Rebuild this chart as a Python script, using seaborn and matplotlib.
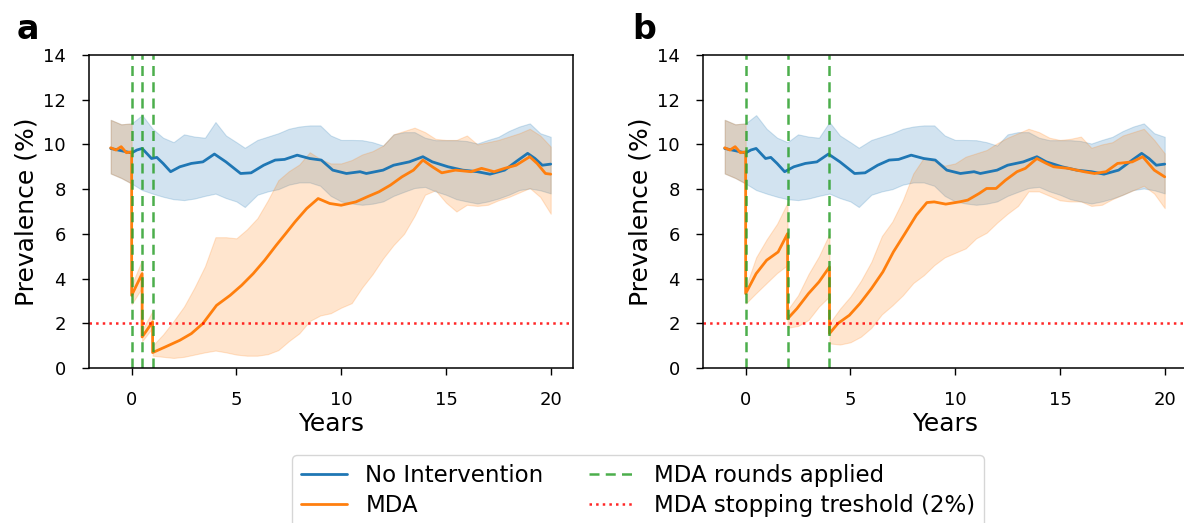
import matplotlib
matplotlib.use("Agg")
import matplotlib.pyplot as plt
import seaborn as sns
import numpy as np

# No intervention (same baseline run in both panels)
base_x = [-1, -0.5, 0, 0.25, 0.5, 0.95, 1.2, 1.5, 1.86, 2.3, 2.85, 3.4, 3.95, 4.5, 5.2, 5.7, 6.3, 6.85, 7.3, 7.9,
          8.5, 9.05, 9.6, 10.25, 10.9, 11.2, 12.0, 12.5, 13.25, 13.9, 14.35, 15.1, 15.8, 16.5, 17.1, 17.8, 18.45,
          18.9, 19.25, 19.6, 20.0]
base_y = [9.82, 9.72, 9.62, 9.75, 9.82, 9.37, 9.42, 9.15, 8.78, 9.0, 9.15, 9.22, 9.57, 9.22, 8.7, 8.73, 9.07, 9.3,
          9.33, 9.52, 9.37, 9.3, 8.85, 8.7, 8.78, 8.7, 8.85, 9.07, 9.22, 9.45, 9.22, 9.0, 8.85, 8.78, 8.67, 8.85,
          9.3, 9.6, 9.37, 9.07, 9.12]
base_band_x = [-1, -0.5, 0, 0.5, 1.0, 1.5, 2.0, 2.5, 3.0, 3.5, 4.0, 4.5, 5.0, 5.4, 6.0, 6.5, 7.0, 7.5, 8.0, 8.5,
               9.0, 9.5, 10.0, 10.5, 11.0, 11.5, 12.0, 12.5, 13.0, 13.5, 14.0, 14.5, 15.0, 15.5, 16.0, 16.5, 17.0,
               17.5, 18.0, 18.5, 19.0, 19.5, 20.0]
base_lo = [8.7, 8.5, 8.25, 7.96, 7.8, 7.66, 7.55, 7.51, 7.58, 7.7, 7.8, 7.6, 7.45, 7.2, 7.75, 7.9, 8.0, 8.2, 8.3,
           8.3, 8.15, 7.7, 7.45, 7.36, 7.3, 7.35, 7.45, 7.7, 7.88, 8.05, 8.1, 7.9, 7.75, 7.55, 7.45, 7.36, 7.45,
           7.58, 7.75, 7.96, 8.03, 7.95, 7.81]
base_hi = [11.1, 10.9, 10.94, 11.31, 10.7, 10.3, 10.1, 10.45, 10.35, 10.3, 11.0, 10.4, 10.1, 9.85, 10.2, 10.35,
           10.5, 10.7, 10.8, 10.85, 10.85, 10.4, 10.2, 10.2, 10.19, 10.1, 9.95, 10.45, 10.55, 10.55, 10.3, 10.19,
           10.19, 10.19, 10.15, 10.04, 10.2, 10.34, 10.6, 10.8, 10.94, 10.5, 10.34]

# panel a: MDA at 0, 0.5, 1 years
mda_a_x = [-1, -0.75, -0.5, -0.25, 0, 0, 0.5, 0.5, 1.0, 1.0, 1.6, 2.3, 2.85, 3.4, 4.05, 4.7, 5.25, 5.8, 6.35, 6.9,
           7.35, 7.8, 8.35, 8.9, 9.45, 10.0, 10.7, 11.25, 11.8, 12.35, 12.9, 13.45, 13.9, 14.35, 14.8, 15.45, 16.2,
           16.7, 17.3, 17.8, 18.35, 19.0, 19.35, 19.75, 20.0]
mda_a_y = [9.85, 9.75, 9.9, 9.63, 9.67, 3.25, 4.22, 1.39, 2.06, 0.69, 0.94, 1.24, 1.54, 1.99, 2.8, 3.25, 3.7, 4.22,
           4.82, 5.49, 6.01, 6.54, 7.13, 7.58, 7.36, 7.28, 7.43, 7.66, 7.88, 8.18, 8.55, 8.85, 9.3, 9.0, 8.73, 8.85,
           8.78, 8.93, 8.78, 8.93, 9.07, 9.45, 9.15, 8.7, 8.67]
mda_a_band_x = [-1, -0.5, 0, 0, 0.5, 0.5, 1.0, 1.0, 1.5, 2.0, 2.5, 3.0, 3.5, 4.0, 4.5, 5.0, 5.5, 6.0, 6.5, 7.0,
                7.5, 8.0, 8.5, 9.0, 9.5, 10.0, 10.5, 11.0, 11.5, 12.0, 12.5, 13.0, 13.5, 14.0, 14.5, 15.0, 15.5,
                16.0, 16.5, 17.0, 17.5, 18.0, 18.5, 19.0, 19.5, 20.0]
mda_a_lo = [8.7, 8.5, 8.25, 2.85, 3.6, 1.2, 1.8, 0.55, 0.5, 0.45, 0.5, 0.6, 0.7, 0.78, 0.7, 0.6, 0.55, 0.55, 0.62,
            0.8, 1.2, 1.55, 2.1, 2.35, 2.45, 2.7, 2.9, 3.6, 4.2, 4.9, 5.5, 6.0, 6.8, 7.75, 7.95, 7.4, 7.0, 7.3,
            7.25, 7.3, 7.5, 7.65, 7.85, 8.05, 7.65, 6.9]
mda_a_hi = [11.1, 10.9, 10.94, 3.7, 4.85, 1.7, 2.55, 1.0, 1.5, 2.1, 2.75, 3.6, 4.55, 5.85, 5.85, 5.8, 6.2, 6.7,
            7.5, 8.4, 8.8, 9.1, 9.65, 9.35, 9.15, 9.15, 9.3, 9.55, 9.7, 9.95, 10.45, 10.6, 10.75, 10.55, 10.25,
            10.2, 10.2, 10.4, 10.0, 10.1, 10.2, 10.35, 10.5, 10.7, 10.4, 9.9]
rounds_a = [0, 0.5, 1]

# panel b: MDA at 0, 2, 4 years
mda_b_x = [-1, -0.75, -0.5, -0.25, 0, 0, 0.5, 1.0, 1.55, 2.0, 2.0, 2.45, 3.0, 3.5, 4.0, 4.0, 4.4, 4.95, 5.45, 6.0,
           6.55, 7.05, 7.6, 8.15, 8.65, 9.0, 9.55, 10.2, 10.6, 11.15, 11.5, 11.95, 12.4, 12.95, 13.35, 13.9, 14.35,
           14.7, 15.4, 16.15, 16.65, 17.2, 17.75, 18.45, 18.95, 19.5, 20.0]
mda_b_y = [9.85, 9.75, 9.9, 9.63, 9.67, 3.33, 4.22, 4.82, 5.19, 6.01, 2.2, 2.66, 3.33, 3.85, 4.52, 1.54, 1.99, 2.36,
           2.88, 3.55, 4.3, 5.19, 6.01, 6.84, 7.4, 7.43, 7.33, 7.43, 7.51, 7.81, 8.03, 8.03, 8.4, 8.78, 8.93, 9.37,
           9.15, 9.0, 8.93, 8.78, 8.7, 8.78, 9.15, 9.22, 9.45, 8.85, 8.55]
mda_b_band_x = [-1, -0.5, 0, 0, 0.5, 1.0, 1.5, 2.0, 2.0, 2.5, 3.0, 3.5, 4.0, 4.0, 4.5, 5.0, 5.5, 6.0, 6.5, 7.0,
                7.5, 8.0, 8.5, 9.0, 9.5, 10.0, 10.5, 11.0, 11.5, 12.0, 12.5, 13.0, 13.5, 14.0, 14.5, 15.0, 15.5,
                16.0, 16.5, 17.0, 17.5, 18.0, 18.5, 19.0, 19.5, 20.0]
mda_b_lo = [8.7, 8.5, 8.25, 2.88, 3.35, 3.8, 4.25, 4.6, 1.8, 1.88, 2.15, 2.75, 3.2, 1.1, 1.05, 1.15, 1.4, 1.8, 2.4,
            2.8, 3.25, 3.8, 4.15, 4.6, 4.95, 5.15, 5.35, 5.8, 6.05, 6.5, 6.9, 7.25, 7.9, 7.9, 7.7, 7.5, 7.45, 7.45,
            7.25, 7.3, 7.55, 7.75, 7.95, 8.15, 7.8, 7.15]
mda_b_hi = [11.1, 10.9, 10.94, 3.6, 4.95, 5.75, 6.45, 7.4, 2.6, 3.25, 4.2, 5.0, 6.0, 2.0, 2.65, 3.2, 3.9, 4.75, 5.9,
            6.55, 7.5, 8.7, 9.4, 9.25, 9.05, 9.15, 9.45, 9.6, 9.75, 10.05, 10.3, 10.5, 10.7, 10.55, 10.3, 10.2,
            10.25, 10.35, 9.85, 10.0, 10.1, 10.4, 10.55, 10.7, 10.2, 9.6]
rounds_b = [0, 2, 4]

threshold = 2.0

sns.set_style("ticks")
plt.rcParams['font.family'] = ['DejaVu Sans']
plt.rcParams['text.color'] = 'black'
plt.rcParams['axes.labelcolor'] = 'black'
plt.rcParams['xtick.color'] = 'black'
plt.rcParams['ytick.color'] = 'black'
plt.rcParams['axes.edgecolor'] = 'black'

fig = plt.figure(figsize=(11.84, 5.23), dpi=100)
W, H = 1184, 523
ax_a = fig.add_axes([88.7 / W, 1 - 368 / H, 484 / W, 313 / H])
ax_b = fig.add_axes([702.7 / W, 1 - 368 / H, 484 / W, 313 / H])

blue, orange = '#1f77b4', '#ff7f0e'

panels = [
    (ax_a, mda_a_x, mda_a_y, mda_a_band_x, mda_a_lo, mda_a_hi, rounds_a, 'a', 17),
    (ax_b, mda_b_x, mda_b_y, mda_b_band_x, mda_b_lo, mda_b_hi, rounds_b, 'b', 632),
]

for ax, mx, my, bx, blo, bhi, rounds, letter, lx in panels:
    ax.fill_between(base_band_x, base_lo, base_hi, color=blue, alpha=0.2, linewidth=0.8)
    ax.fill_between(bx, blo, bhi, color=orange, alpha=0.2, linewidth=0.8)
    sns.lineplot(x=base_x, y=base_y, ax=ax, color=blue, linewidth=2.0, estimator=None, sort=False,
                 label='No Intervention')
    sns.lineplot(x=mx, y=my, ax=ax, color=orange, linewidth=2.0, estimator=None, sort=False, label='MDA')
    for i, r in enumerate(rounds):
        ax.axvline(r, color='#2ca02c', linestyle='--', linewidth=1.8, alpha=0.85, dashes=(4, 2.5),
                   label='MDA rounds applied' if i == 0 else None)
    ax.axhline(threshold, color='red', linestyle=':', linewidth=1.8, alpha=0.85,
               label='MDA stopping treshold (2%)')
    ax.set_xlim(-2.05, 21.05)
    ax.set_ylim(0, 14)
    ax.set_xticks([0, 5, 10, 15, 20])
    ax.set_yticks(np.arange(0, 15, 2))
    ax.tick_params(labelsize=13, length=5, width=1.0, pad=11.5)
    ax.set_xlabel('Years', fontsize=18, labelpad=2.5)
    ax.set_ylabel('Prevalence (%)', fontsize=18, labelpad=3)
    for s in ax.spines.values():
        s.set_linewidth(1.1)
    ax.get_legend().remove()
    fig.text(lx / W, 1 - 39 / H, letter, fontsize=24, fontweight='bold', va='baseline', ha='left')

handles, labels = ax_a.get_legend_handles_labels()
fig.legend(handles, labels, loc='upper left', bbox_to_anchor=(292 / W, 1 - 455 / H), ncol=2,
           fontsize=16.5, borderaxespad=0, labelspacing=0.3, columnspacing=2.0, frameon=True)

fig.savefig('out.png', dpi=100)
